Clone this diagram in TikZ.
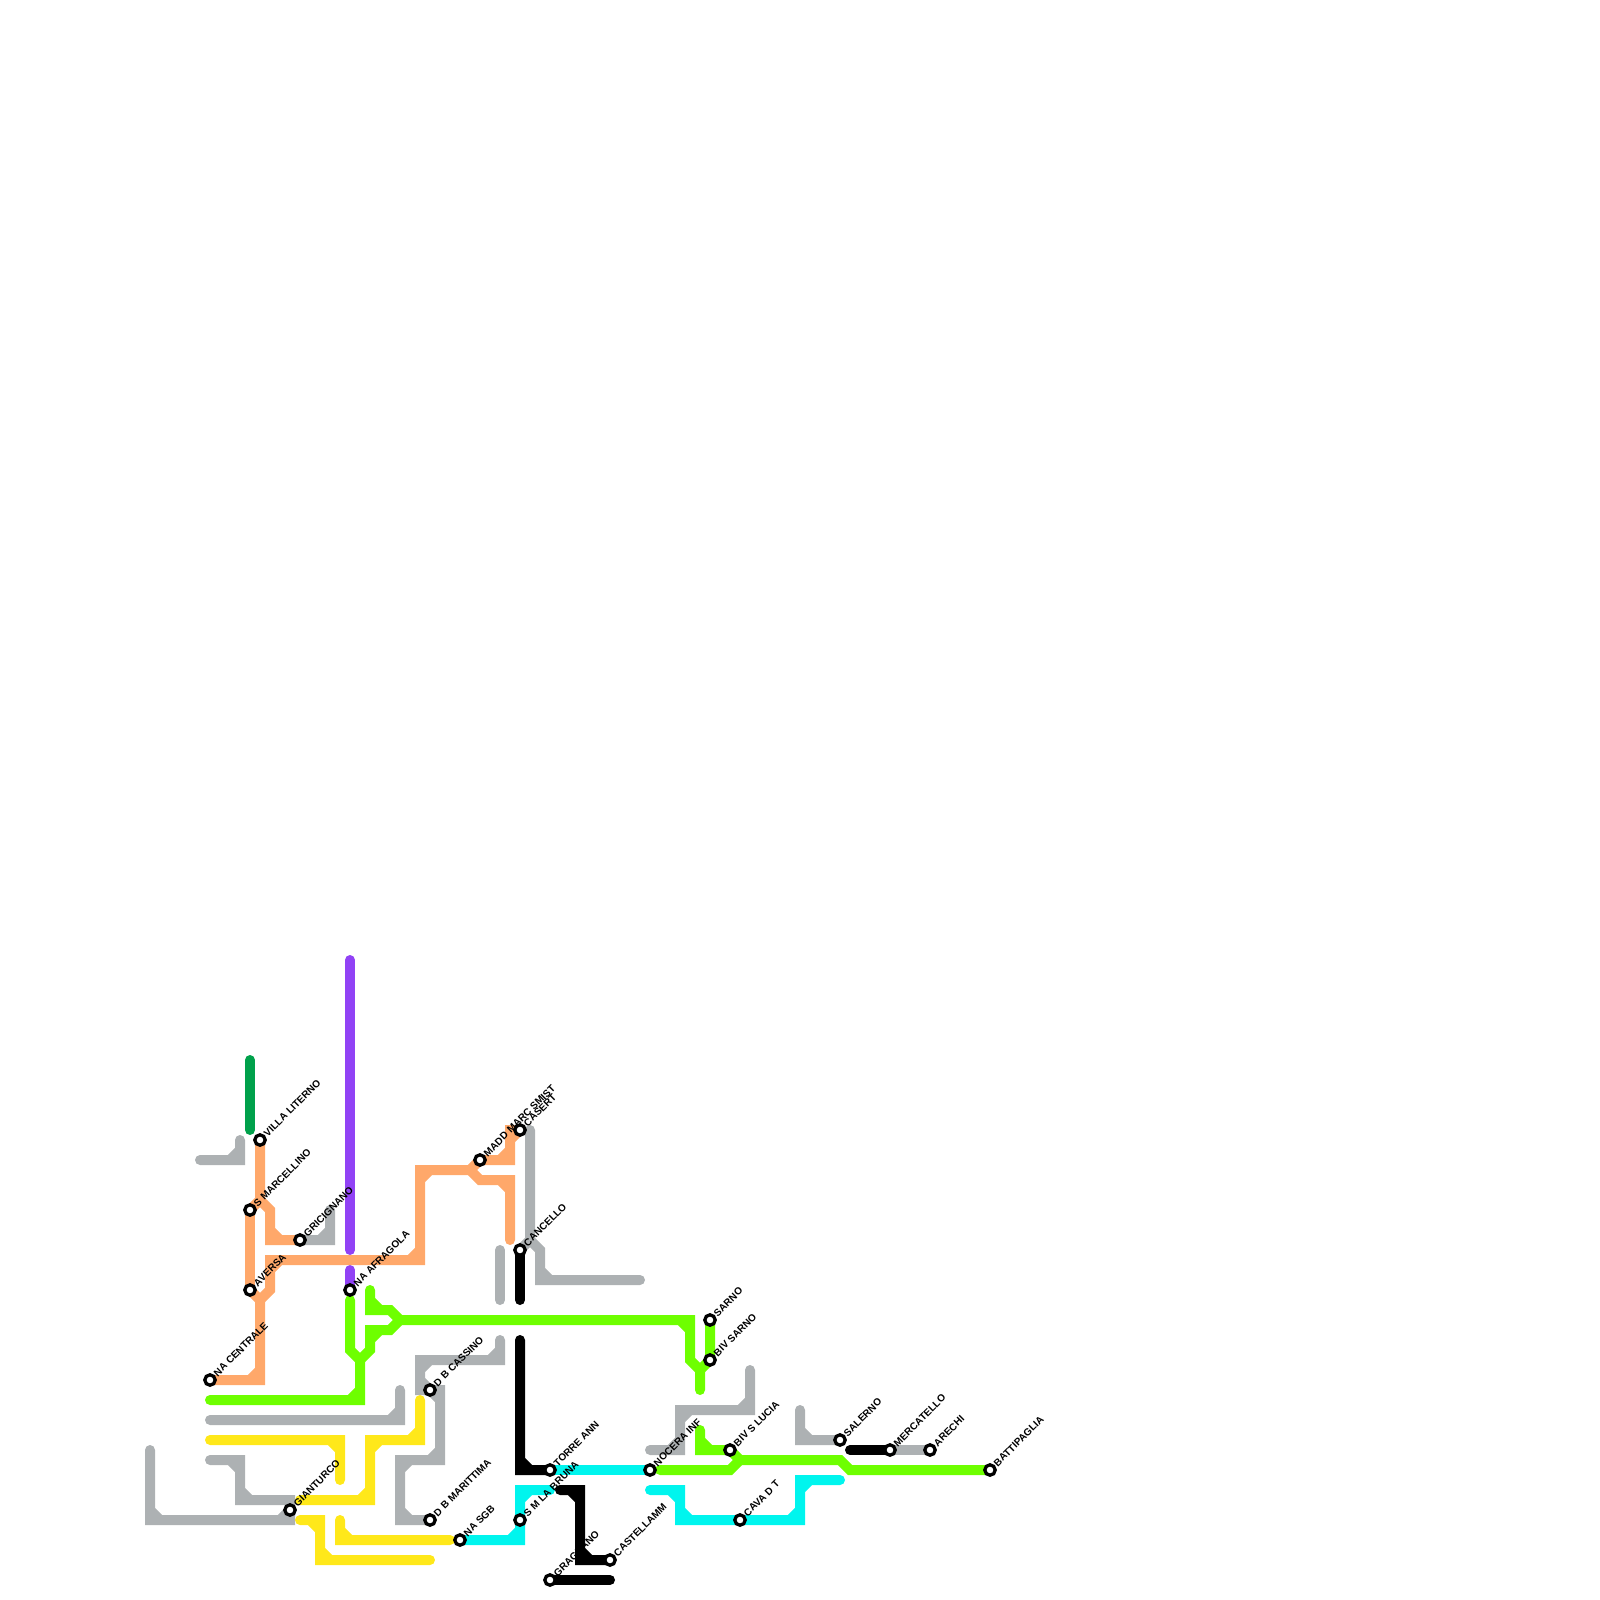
\documentclass[tikz,border=0pt]{standalone}
\usepackage{fontspec}
\setmainfont{Liberation Sans}
\usetikzlibrary{backgrounds}
\definecolor{cgrey}{HTML}{ADB1B3}
\definecolor{corange}{HTML}{FFA86A}
\definecolor{cgreen}{HTML}{6EFF00}
\definecolor{cdark}{HTML}{00A14B}
\definecolor{cpurple}{HTML}{9142F5}
\definecolor{cyellow}{HTML}{FFE81A}
\definecolor{ccyan}{HTML}{00F5EE}
\tikzset{
  x=1pt,y=-1pt,
  rail/.style={draw=#1,line width=10pt,line cap=round,line join=miter,miter limit=10},
  ring/.style={circle,draw=black,fill=white,line width=3.3pt,minimum size=10.4pt,inner sep=0pt,outer sep=0pt,font=\fontsize{1pt}{1pt}\selectfont},
  lbl/.style={anchor=west,rotate=45,inner sep=0pt,font=\bfseries\fontsize{10pt}{11pt}\selectfont,text=black,xshift=7.5pt}
}
\newcommand{\stn}[4]{\node[ring] (#1) at (#2,#3) {}; \node[lbl] (#1-l) at (#2,#3) {#4};}
\begin{document}
\begin{tikzpicture}
\useasboundingbox (0,0) rectangle (1600,1600);
\stn{vl}{260}{1140}{VILLA LITERNO}
\stn{sm}{250}{1210}{S MARCELLINO}
\stn{gr}{300}{1240}{GRICIGNANO}
\stn{av}{250}{1290}{AVERSA}
\stn{na}{350}{1290}{NA AFRAGOLA}
\stn{nc}{210}{1380}{NA CENTRALE}
\stn{gi}{290}{1510}{GIANTURCO}
\stn{dbc}{430}{1390}{D B CASSINO}
\stn{dbm}{430}{1520}{D B MARITTIMA}
\stn{sgb}{460}{1540}{NA SGB}
\stn{smb}{520}{1520}{S M LA BRUNA}
\stn{ta}{550}{1470}{TORRE ANN}
\stn{gra}{550}{1580}{GRAGNANO}
\stn{cas}{610}{1560}{CASTELLAMM}
\stn{noc}{650}{1470}{NOCERA INF}
\stn{madd}{480}{1160}{MADD MARC SMIST}
\stn{cst}{520}{1130}{CASERT}
\stn{can}{520}{1250}{CANCELLO}
\stn{sar}{710}{1320}{SARNO}
\stn{bsa}{710}{1360}{BIV SARNO}
\stn{bsl}{730}{1450}{BIV S LUCIA}
\stn{cav}{740}{1520}{CAVA D T}
\stn{sal}{840}{1440}{SALERNO}
\stn{mer}{890}{1450}{MERCATELLO}
\stn{are}{930}{1450}{ARECHI}
\stn{bat}{990}{1470}{BATTIPAGLIA}
\begin{pgfonlayer}{background}
% grey
\draw[rail=cgrey] (200,1160) -- (240,1160) -- (240,1140) (230,1160) -- (240,1150);
\draw[rail=cgrey] (gr.center) -- (330,1240) -- (330,1210) (320,1240) -- (330,1230);
\draw[rail=cgrey] (530,1130) -- (530,1240) -- (540,1250) -- (540,1280) -- (640,1280) (540,1270) -- (550,1280) (can.center) -- (530,1240);
\draw[rail=cgrey] (500,1250) -- (500,1300);
\draw[rail=cgrey] (500,1340) -- (500,1360) -- (420,1360) -- (420,1390) -- (dbc.center) (490,1360) -- (500,1350) (420,1370) -- (430,1360) (420,1380) -- (430,1390);
\draw[rail=cgrey] (dbc.center) -- (440,1390) -- (440,1460) -- (400,1460) -- (400,1520) -- (dbm.center) (430,1460) -- (440,1450) (400,1470) -- (410,1460) (400,1510) -- (410,1520) (430,1390) -- (440,1400);
\draw[rail=cgrey] (210,1420) -- (400,1420) -- (400,1390) (390,1420) -- (400,1410);
\draw[rail=cgrey] (210,1460) -- (240,1460) -- (240,1500) -- (290,1500) -- (gi.center) (230,1460) -- (240,1470) (240,1490) -- (250,1500);
\draw[rail=cgrey] (150,1450) -- (150,1520) -- (290,1520) -- (gi.center) (150,1510) -- (160,1520) (280,1520) -- (290,1510);
\draw[rail=cgrey] (750,1370) -- (750,1410) -- (680,1410) -- (680,1450) -- (650,1450) (740,1410) -- (750,1400) (680,1420) -- (690,1410) (670,1450) -- (680,1440);
\draw[rail=cgrey] (800,1410) -- (800,1440) -- (sal.center) (800,1430) -- (810,1440);
\draw[rail=cgrey] (mer.center) -- (are.center);
% dark green, purple
\draw[rail=cdark] (250,1060) -- (250,1130);
\draw[rail=cpurple] (350,960) -- (350,1250);
\draw[rail=cpurple] (350,1270) -- (na.center);
% orange
\draw[rail=corange] (vl.center) -- (260,1200) -- (270,1210) -- (270,1240) -- (gr.center) (270,1230) -- (280,1240) (sm.center) -- (260,1200);
\draw[rail=corange] (sm.center) -- (av.center);
\draw[rail=corange] (av.center) -- (260,1300) -- (270,1290) -- (270,1260) -- (420,1260) -- (420,1170) -- (470,1170) -- (madd.center) (280,1260) -- (270,1270) (410,1260) -- (420,1250) (420,1180) -- (430,1170);
\draw[rail=corange] (260,1300) -- (260,1380) -- (nc.center) (250,1380) -- (260,1370);
\draw[rail=corange] (470,1170) -- (480,1180) -- (510,1180) -- (510,1240) (500,1180) -- (510,1190);
\draw[rail=corange] (madd.center) -- (510,1160) -- (510,1130) -- (cst.center) (500,1160) -- (510,1150) (510,1140) -- (520,1130);
% green
\draw[rail=cgreen] (210,1400) -- (360,1400) -- (360,1360) -- (350,1350) -- (350,1300) (350,1400) -- (360,1390);
\draw[rail=cgreen] (360,1360) -- (370,1350) -- (370,1330) -- (390,1330) -- (400,1320) (370,1340) -- (380,1330);
\draw[rail=cgreen] (370,1290) -- (370,1310) -- (390,1310) -- (400,1320) (370,1300) -- (380,1310);
\draw[rail=cgreen] (400,1320) -- (690,1320) -- (690,1360) -- (700,1370) -- (700,1390) (680,1320) -- (690,1330);
\draw[rail=cgreen] (sar.center) -- (bsa.center) -- (700,1370);
\draw[rail=cgreen] (700,1430) -- (700,1450) -- (bsl.center) -- (740,1460) -- (840,1460) -- (850,1470) -- (bat.center) (700,1440) -- (710,1450);
\draw[rail=cgreen] (660,1470) -- (730,1470) -- (740,1460);
% yellow
\draw[rail=cyellow] (210,1440) -- (340,1440) -- (340,1480) (330,1440) -- (340,1450);
\draw[rail=cyellow] (300,1500) -- (370,1500) -- (370,1440) -- (420,1440) -- (420,1400) (360,1500) -- (370,1490) (370,1450) -- (380,1440) (410,1440) -- (420,1430);
\draw[rail=cyellow] (300,1520) -- (320,1520) -- (320,1560) -- (430,1560) (310,1520) -- (320,1530) (320,1550) -- (330,1560);
\draw[rail=cyellow] (340,1520) -- (340,1540) -- (450,1540) (340,1530) -- (350,1540);
% cyan
\draw[rail=ccyan] (ta.center) -- (noc.center);
\draw[rail=ccyan] (550,1490) -- (520,1490) -- (520,1540) -- (sgb.center) (520,1500) -- (530,1490) (510,1540) -- (520,1530);
\draw[rail=ccyan] (650,1490) -- (680,1490) -- (680,1520) -- (800,1520) -- (800,1480) -- (840,1480) (670,1490) -- (680,1500) (680,1510) -- (690,1520) (790,1520) -- (800,1510) (800,1490) -- (810,1480);
% black
\draw[rail=black] (can.center) -- (520,1300);
\draw[rail=black] (520,1340) -- (520,1470) -- (ta.center) (520,1460) -- (530,1470);
\draw[rail=black] (560,1490) -- (580,1490) -- (580,1560) -- (cas.center) (570,1490) -- (580,1500) (580,1550) -- (590,1560);
\draw[rail=black] (gra.center) -- (610,1580);
\draw[rail=black] (850,1450) -- (mer.center);
\end{pgfonlayer}
\end{tikzpicture}
\end{document}
